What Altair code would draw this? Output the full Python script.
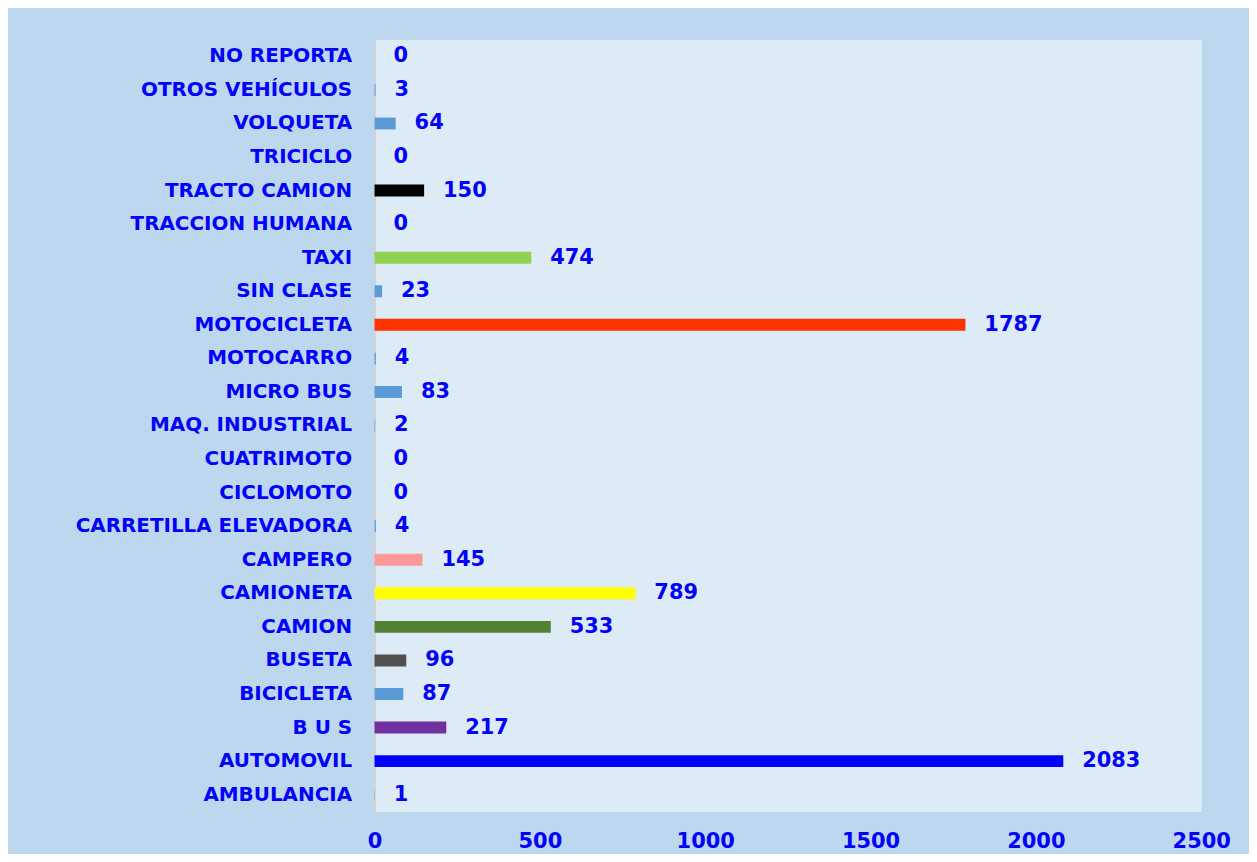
import altair as alt
import pandas as pd

categories = ["NO REPORTA", "OTROS VEHÍCULOS", "VOLQUETA", "TRICICLO", "TRACTO CAMION",
              "TRACCION HUMANA", "TAXI", "SIN CLASE", "MOTOCICLETA", "MOTOCARRO",
              "MICRO BUS", "MAQ. INDUSTRIAL", "CUATRIMOTO", "CICLOMOTO",
              "CARRETILLA ELEVADORA", "CAMPERO", "CAMIONETA", "CAMION", "BUSETA",
              "BICICLETA", "B U S", "AUTOMOVIL", "AMBULANCIA"]
values = [0, 3, 64, 0, 150, 0, 474, 23, 1787, 4, 83, 2, 0, 0, 4, 145, 789, 533, 96, 87, 217, 2083, 1]
colors = ["#5B9BD5", "#5B9BD5", "#5B9BD5", "#5B9BD5", "#000000",
          "#5B9BD5", "#92D050", "#5B9BD5", "#FF3300", "#5B9BD5",
          "#5B9BD5", "#5B9BD5", "#5B9BD5", "#5B9BD5",
          "#5B9BD5", "#FF9999", "#FFFF00", "#548235", "#505050",
          "#5B9BD5", "#7030A0", "#0000FF", "#5B9BD5"]
x_ticks = [0, 500, 1000, 1500, 2000, 2500]

df = pd.DataFrame({"cat": categories, "value": values, "color": colors})

FONT = "DejaVu Sans"
TXT = "#0000FF"

base = alt.Chart(df).encode(
    y=alt.Y("cat:N", sort=categories,
            scale=alt.Scale(paddingInner=0, paddingOuter=0),
            axis=alt.Axis(title=None, labelFont=FONT, labelFontSize=20,
                          labelFontWeight="bold", labelColor=TXT, ticks=False,
                          domainColor="#D4D4D4", domainWidth=2, labelPadding=23,
                          labelLimit=400)),
    x=alt.X("value:Q", scale=alt.Scale(domain=[0, 2500], nice=False),
            axis=alt.Axis(values=x_ticks, format="d", title=None, grid=False,
                          ticks=False, domain=False, labelFont=FONT,
                          labelFontSize=21, labelFontWeight="bold",
                          labelColor=TXT, labelPadding=19, labelFlush=False)),
)

bars = base.mark_bar(size=12).encode(color=alt.Color("color:N", scale=None))
text = base.mark_text(align="left", dx=19, font=FONT, fontSize=21,
                      fontWeight="bold", color=TXT).encode(text="value:Q")

chart = (bars + text).properties(
    width=830, height=775,
    padding={"left": 368, "top": 30, "right": 48, "bottom": 41},
    autosize=alt.AutoSizeParams(type="none"),
    background="#BDD7EE",
).configure_view(fill="#DDEBF7", strokeOpacity=0)

chart.save("out.html", embed_options={"renderer": "svg", "actions": False})
